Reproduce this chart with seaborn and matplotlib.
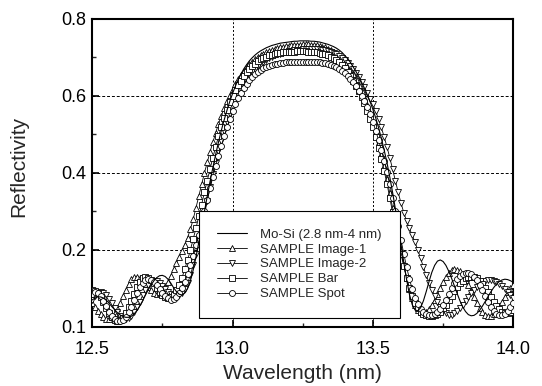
import numpy as np
import pandas as pd
import seaborn as sns
import matplotlib.pyplot as plt
from matplotlib.ticker import MultipleLocator, FixedLocator, FixedFormatter

# Wavelength grid of the measured points (nm), 0.01 nm step
wavelength = np.round(np.arange(12.50, 14.001, 0.01), 2)

# Reflectivity, one value per wavelength point
mosi = [
    0.070, 0.075, 0.078, 0.078, 0.075, 0.070, 0.062, 0.053, 0.045, 0.037,
    0.031, 0.027, 0.025, 0.025, 0.028, 0.034, 0.043, 0.055, 0.068, 0.083,
    0.097, 0.109, 0.120, 0.128, 0.133, 0.134, 0.131, 0.124, 0.114, 0.102,
    0.092, 0.085, 0.083, 0.088, 0.100, 0.120, 0.148, 0.182, 0.220, 0.260,
    0.300, 0.340, 0.378, 0.414, 0.448, 0.480, 0.510, 0.537, 0.562, 0.585,
    0.606, 0.625, 0.642, 0.657, 0.670, 0.681, 0.691, 0.699, 0.706, 0.712,
    0.717, 0.721, 0.725, 0.728, 0.731, 0.733, 0.735, 0.737, 0.738, 0.739,
    0.740, 0.741, 0.742, 0.742, 0.743, 0.743, 0.743, 0.743, 0.742, 0.742,
    0.741, 0.740, 0.738, 0.736, 0.734, 0.731, 0.728, 0.724, 0.719, 0.713,
    0.705, 0.697, 0.687, 0.675, 0.663, 0.650, 0.635, 0.620, 0.603, 0.585,
    0.565, 0.543, 0.518, 0.490, 0.460, 0.427, 0.390, 0.350, 0.307, 0.262,
    0.215, 0.168, 0.123, 0.085, 0.058, 0.044, 0.042, 0.050, 0.068, 0.092,
    0.118, 0.142, 0.160, 0.171, 0.174, 0.170, 0.160, 0.145, 0.127, 0.107,
    0.087, 0.068, 0.052, 0.040, 0.032, 0.029, 0.030, 0.035, 0.043, 0.054,
    0.066, 0.079, 0.091, 0.102, 0.111, 0.118, 0.122, 0.124, 0.123, 0.120,
    0.116,
]
image1 = [
    0.062, 0.052, 0.042, 0.033, 0.025, 0.021, 0.021, 0.026, 0.035, 0.048,
    0.063, 0.080, 0.097, 0.112, 0.124, 0.130, 0.131, 0.128, 0.121, 0.112,
    0.103, 0.095, 0.089, 0.086, 0.088, 0.095, 0.105, 0.118, 0.133, 0.150,
    0.166, 0.182, 0.198, 0.214, 0.232, 0.254, 0.280, 0.310, 0.340, 0.370,
    0.400, 0.428, 0.455, 0.480, 0.504, 0.527, 0.548, 0.568, 0.586, 0.602,
    0.617, 0.631, 0.644, 0.655, 0.665, 0.674, 0.682, 0.689, 0.695, 0.700,
    0.705, 0.709, 0.713, 0.716, 0.719, 0.722, 0.724, 0.726, 0.728, 0.729,
    0.730, 0.731, 0.732, 0.733, 0.733, 0.734, 0.734, 0.734, 0.733, 0.733,
    0.732, 0.730, 0.728, 0.726, 0.723, 0.719, 0.715, 0.710, 0.704, 0.697,
    0.689, 0.680, 0.669, 0.657, 0.644, 0.629, 0.613, 0.596, 0.577, 0.556,
    0.533, 0.508, 0.480, 0.450, 0.418, 0.384, 0.348, 0.310, 0.272, 0.234,
    0.196, 0.160, 0.127, 0.098, 0.074, 0.056, 0.044, 0.038, 0.037, 0.040,
    0.047, 0.058, 0.071, 0.086, 0.101, 0.116, 0.129, 0.140, 0.147, 0.150,
    0.149, 0.144, 0.135, 0.123, 0.109, 0.093, 0.077, 0.062, 0.049, 0.038,
    0.031, 0.028, 0.029, 0.034, 0.043, 0.054, 0.066, 0.079, 0.091, 0.101,
    0.109,
]
image2 = [
    0.070, 0.080, 0.087, 0.090, 0.088, 0.082, 0.073, 0.062, 0.050, 0.039,
    0.029, 0.022, 0.020, 0.022, 0.028, 0.038, 0.051, 0.066, 0.082, 0.097,
    0.109, 0.117, 0.120, 0.119, 0.114, 0.107, 0.099, 0.091, 0.085, 0.081,
    0.080, 0.082, 0.088, 0.098, 0.113, 0.135, 0.160, 0.190, 0.222, 0.256,
    0.292, 0.328, 0.363, 0.396, 0.427, 0.456, 0.483, 0.508, 0.531, 0.552,
    0.571, 0.588, 0.604, 0.618, 0.631, 0.643, 0.654, 0.663, 0.671, 0.678,
    0.684, 0.689, 0.694, 0.698, 0.702, 0.705, 0.708, 0.710, 0.712, 0.714,
    0.716, 0.717, 0.718, 0.719, 0.720, 0.721, 0.721, 0.722, 0.722, 0.722,
    0.722, 0.721, 0.720, 0.719, 0.717, 0.715, 0.712, 0.708, 0.704, 0.699,
    0.693, 0.686, 0.678, 0.669, 0.659, 0.648, 0.636, 0.622, 0.608, 0.592,
    0.578, 0.560, 0.540, 0.518, 0.494, 0.468, 0.440, 0.410, 0.380, 0.350,
    0.322, 0.297, 0.275, 0.256, 0.238, 0.220, 0.200, 0.178, 0.155, 0.134,
    0.115, 0.097, 0.080, 0.065, 0.052, 0.042, 0.035, 0.032, 0.032, 0.035,
    0.041, 0.049, 0.058, 0.068, 0.078, 0.088, 0.097, 0.105, 0.112, 0.117,
    0.120, 0.122, 0.122, 0.120, 0.117, 0.112, 0.106, 0.099, 0.091, 0.083,
    0.075,
]
bar = [
    0.095, 0.093, 0.087, 0.077, 0.064, 0.050, 0.037, 0.026, 0.018, 0.015,
    0.017, 0.024, 0.036, 0.051, 0.068, 0.086, 0.103, 0.117, 0.127, 0.130,
    0.128, 0.122, 0.113, 0.102, 0.092, 0.083, 0.077, 0.075, 0.077, 0.084,
    0.095, 0.110, 0.128, 0.150, 0.174, 0.200, 0.228, 0.257, 0.287, 0.318,
    0.350, 0.380, 0.410, 0.440, 0.468, 0.495, 0.520, 0.543, 0.564, 0.583,
    0.600, 0.615, 0.628, 0.640, 0.651, 0.661, 0.669, 0.677, 0.684, 0.690,
    0.695, 0.699, 0.702, 0.705, 0.707, 0.709, 0.711, 0.712, 0.713, 0.714,
    0.714, 0.715, 0.715, 0.716, 0.716, 0.716, 0.716, 0.715, 0.715, 0.714,
    0.713, 0.712, 0.710, 0.708, 0.705, 0.702, 0.698, 0.693, 0.687, 0.680,
    0.672, 0.663, 0.652, 0.640, 0.627, 0.613, 0.598, 0.581, 0.562, 0.541,
    0.518, 0.493, 0.466, 0.437, 0.406, 0.372, 0.336, 0.298, 0.260, 0.222,
    0.190, 0.158, 0.128, 0.102, 0.080, 0.062, 0.049, 0.040, 0.034, 0.030,
    0.028, 0.028, 0.030, 0.034, 0.040, 0.048, 0.058, 0.069, 0.081, 0.093,
    0.104, 0.113, 0.120, 0.126, 0.129, 0.130, 0.129, 0.126, 0.120, 0.112,
    0.102, 0.090, 0.078, 0.066, 0.055, 0.046, 0.040, 0.037, 0.037, 0.040,
    0.045,
]
spot = [
    0.085, 0.090, 0.088, 0.080, 0.068, 0.054, 0.040, 0.028, 0.020, 0.016,
    0.015, 0.018, 0.026, 0.038, 0.053, 0.070, 0.087, 0.103, 0.115, 0.122,
    0.125, 0.123, 0.117, 0.108, 0.098, 0.088, 0.080, 0.074, 0.071, 0.072,
    0.078, 0.088, 0.100, 0.117, 0.137, 0.160, 0.185, 0.212, 0.240, 0.270,
    0.300, 0.330, 0.360, 0.390, 0.418, 0.445, 0.470, 0.495, 0.518, 0.540,
    0.560, 0.578, 0.594, 0.608, 0.620, 0.631, 0.641, 0.650, 0.657, 0.663,
    0.668, 0.672, 0.675, 0.678, 0.680, 0.682, 0.684, 0.685, 0.686, 0.687,
    0.687, 0.688, 0.688, 0.689, 0.689, 0.689, 0.689, 0.689, 0.689, 0.688,
    0.688, 0.687, 0.686, 0.685, 0.683, 0.681, 0.678, 0.675, 0.671, 0.666,
    0.660, 0.653, 0.645, 0.636, 0.626, 0.614, 0.601, 0.586, 0.570, 0.552,
    0.532, 0.510, 0.486, 0.460, 0.432, 0.402, 0.370, 0.336, 0.300, 0.263,
    0.226, 0.190, 0.156, 0.125, 0.098, 0.076, 0.059, 0.047, 0.039, 0.034,
    0.032, 0.032, 0.034, 0.039, 0.047, 0.058, 0.071, 0.085, 0.100, 0.113,
    0.124, 0.133, 0.138, 0.140, 0.140, 0.137, 0.131, 0.122, 0.110, 0.096,
    0.081, 0.066, 0.053, 0.042, 0.034, 0.030, 0.030, 0.034, 0.042, 0.052,
    0.063,
]

labels = ['Mo-Si (2.8 nm-4 nm)', 'SAMPLE Image-1', 'SAMPLE Image-2',
          'SAMPLE Bar', 'SAMPLE Spot']
x_ticks = [12.5, 13.0, 13.5, 14.0]
# the bottom tick of the original axis is printed as "0.1"
y_ticks = [0.0, 0.2, 0.4, 0.6, 0.8]
y_tick_labels = ['0.1', '0.2', '0.4', '0.6', '0.8']

df = pd.DataFrame({'wavelength': wavelength, labels[0]: mosi, labels[1]: image1,
                   labels[2]: image2, labels[3]: bar, labels[4]: spot})

sns.set_theme(style='ticks')
plt.rcParams['font.family'] = ['Liberation Sans', 'DejaVu Sans']

fig = plt.figure(figsize=(5.42, 3.86), dpi=100)
ax = fig.add_axes([0.170, 0.153, 0.777, 0.798])

# solid theory curve, then the four measured samples with open markers
sns.lineplot(data=df, x='wavelength', y=labels[0], ax=ax, color='black',
             lw=0.8, label=labels[0], errorbar=None, zorder=4)
marker_style = {labels[1]: ('^', 4.6), labels[2]: ('v', 4.6),
                labels[3]: ('s', 3.8), labels[4]: ('o', 4.3)}
for lab in labels[1:]:
    m, ms = marker_style[lab]
    sns.lineplot(data=df, x='wavelength', y=lab, ax=ax, color='black', lw=0.6,
                 marker=m, markersize=ms, markerfacecolor='white',
                 markeredgecolor='black', markeredgewidth=0.6,
                 label=lab, errorbar=None, zorder=3)

ax.set_xlim(12.5, 14.0)
ax.set_ylim(0.0, 0.8)
ax.xaxis.set_major_locator(FixedLocator(x_ticks))
ax.xaxis.set_major_formatter(FixedFormatter([f'{t:.1f}' for t in x_ticks]))
ax.xaxis.set_minor_locator(MultipleLocator(0.25))
ax.yaxis.set_major_locator(FixedLocator(y_ticks))
ax.yaxis.set_major_formatter(FixedFormatter(y_tick_labels))
ax.yaxis.set_minor_locator(MultipleLocator(0.1))

ax.set_axisbelow(True)
ax.xaxis.grid(True, which='major', color='black', lw=0.7, ls=(0, (2, 2)))
ax.yaxis.grid(True, which='major', color='black', lw=0.7, ls=(0, (3, 2)))

for sp in ax.spines.values():
    sp.set_linewidth(1.5)
    sp.set_color('black')
ax.tick_params(which='major', direction='in', length=5, width=1.2,
               labelsize=13, colors='black')
ax.tick_params(which='minor', direction='in', length=3, width=1.0)
ax.tick_params(axis='x', which='major', pad=10)
ax.tick_params(axis='y', which='major', pad=4.5)

ax.set_xlabel('Wavelength (nm)', fontsize=15)
ax.set_ylabel('Reflectivity', fontsize=15)
ax.xaxis.set_label_coords(0.5, -0.12)
ax.yaxis.set_label_coords(-0.152, 0.52)

leg = ax.legend(loc='lower left', bbox_to_anchor=(0.254, 0.029), fontsize=9.5,
                frameon=True, fancybox=False, edgecolor='black', framealpha=1,
                borderpad=1.35, handlelength=2.3, handletextpad=1.0,
                labelspacing=0.2, borderaxespad=0)
leg.get_frame().set_linewidth(0.8)
leg.set_zorder(10)

fig.savefig('out.png', dpi=100)
